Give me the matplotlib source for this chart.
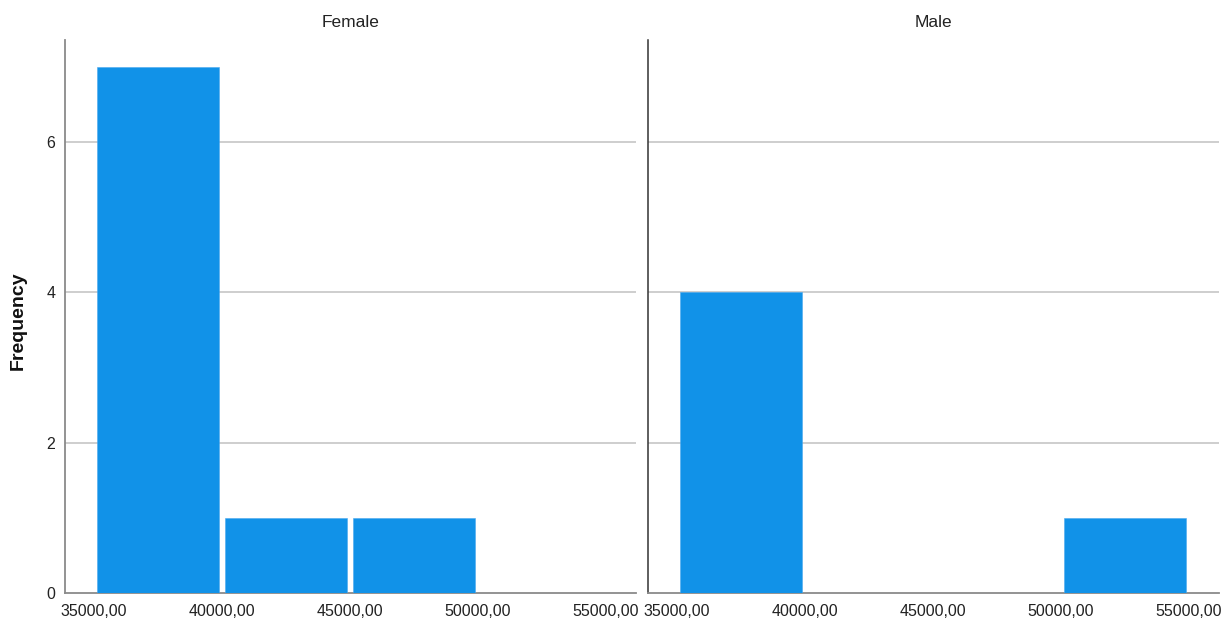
import matplotlib
matplotlib.use("Agg")
from matplotlib import pyplot as plt

# histogram bins (lower edges) and counts per panel
bin_starts = [35000, 40000, 45000, 50000]
bin_width = 5000
female_counts = [7, 1, 1, 0]
male_counts = [4, 0, 0, 1]
panel_titles = ["Female", "Male"]
x_ticks = [35000, 40000, 45000, 50000, 55000]
x_tick_labels = ["35000,00", "40000,00", "45000,00", "50000,00", "55000,00"]
y_ticks = [0, 2, 4, 6]

plt.rcParams['font.family'] = ['Liberation Sans', 'DejaVu Sans']

bar_color = "#1192E8"
grid_color = "#CACACA"

fig = plt.figure(figsize=(12.32, 6.21), dpi=100)
ax1 = fig.add_axes([65/1232, 1-593/621, 571/1232, 553.5/621])
ax2 = fig.add_axes([648/1232, 1-593/621, 571/1232, 553.5/621])

for ax, counts, title in [(ax1, female_counts, panel_titles[0]), (ax2, male_counts, panel_titles[1])]:
    # small gap between bars, like the white outline of the original
    ax.bar([b + 145 for b in bin_starts], counts, width=bin_width - 250,
           align='edge', color=bar_color, edgecolor="#4aa8ee", linewidth=0.4, zorder=3)
    ax.set_xlim(33875, 56200)
    ax.set_ylim(0, 7.36)
    ax.set_xticks(x_ticks)
    ax.set_xticklabels(x_tick_labels, fontsize=11)
    ax.set_yticks(y_ticks)
    for y in y_ticks[1:]:
        ax.axhline(y, color=grid_color, linewidth=1.3, zorder=1)
    ax.tick_params(axis='both', length=0, labelsize=11.5, colors="#222222")
    ax.tick_params(axis='x', pad=8)
    ax.tick_params(axis='y', pad=7)
    for s in ['top', 'right']:
        ax.spines[s].set_visible(False)
    ax.spines['bottom'].set_color("#8a8a8a")
    ax.spines['bottom'].set_linewidth(1.3)
    ax.set_title(title, fontsize=12.5, pad=9, color="#222222")

ax1.spines['left'].set_color("#8a8a8a")
ax1.spines['left'].set_linewidth(1.3)
ax2.spines['left'].set_color("#333333")
ax2.spines['left'].set_linewidth(1.1)
ax2.tick_params(axis='y', labelleft=False)

fig.text(18/1232, 1-321/621, "Frequency", rotation=90, fontsize=14, fontweight='bold',
         ha='center', va='center', color="#111111")

fig.savefig("out.png", dpi=100)
